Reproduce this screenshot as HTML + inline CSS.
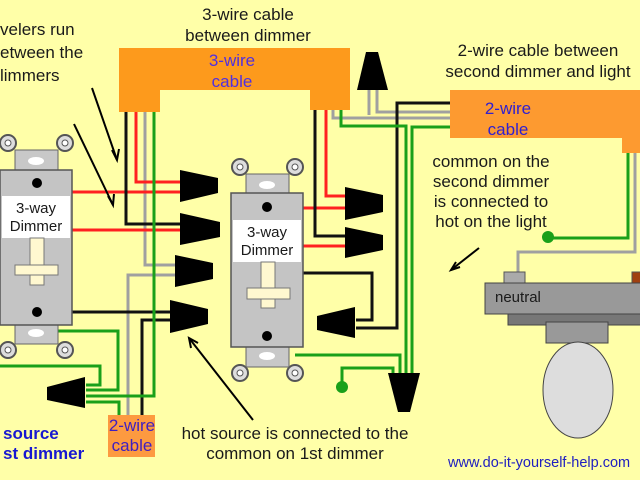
<!DOCTYPE html>
<html><head><meta charset="utf-8"><style>
html,body{margin:0;padding:0;background:#ffffa8;}
svg{display:block;}
text{font-family:"Liberation Sans",sans-serif;font-size:17px;fill:#1a1a1a;}
</style></head><body>
<svg width="640" height="480" viewBox="0 0 640 480" xmlns="http://www.w3.org/2000/svg">
<rect width="640" height="480" fill="#ffffa8"/>

<path d="M119 48 H350 V110 H310 V90 H160 V112 H119 Z" fill="#fd9a1c"/>
<path d="M450 90 H640 V153 H622 V138 H450 Z" fill="#fd9a30"/>
<rect x="108" y="415" width="47" height="42" fill="#fd9a40"/>

<g fill="none" stroke-width="3" stroke-linejoin="miter">
<path d="M145 112 V265 H176" stroke="#a0a0a0"/>
<path d="M128 415 V275 H176" stroke="#a0a0a0"/>
<path d="M333 110 V118 H450" stroke="#a0a0a0"/>
<path d="M369 90 V115 M377 90 V112 H450" stroke="#a0a0a0"/>
<path d="M635 153 V252 H518 V272" stroke="#a0a0a0"/>
<path d="M136 112 V182 H181" stroke="#ff2020"/>
<path d="M72 192 H181" stroke="#ff2020"/>
<path d="M72 230 H182" stroke="#ff2020"/>
<path d="M326 110 V196 H346" stroke="#ff2020"/>
<path d="M303 208 H346" stroke="#ff2020"/>
<path d="M303 246 H346" stroke="#ff2020"/>
<path d="M126 112 V224 H182" stroke="#111"/>
<path d="M72 312 H172" stroke="#111"/>
<path d="M142 415 V320 H172" stroke="#111"/>
<path d="M315 110 V236 H346" stroke="#111"/>
<path d="M303 273 H372 V320 H356" stroke="#111"/>
<path d="M450 103 H397 V328 H356" stroke="#111"/>
<path d="M154 112 V396 H86" stroke="#1aa01a"/>
<path d="M58 331 H118 V390 H86" stroke="#1aa01a"/>
<path d="M0 366 H100 V385 H86" stroke="#1aa01a"/>
<path d="M86 402 H119 V415" stroke="#1aa01a"/>
<path d="M295 355 H400 V375" stroke="#1aa01a"/>
<path d="M341 110 V126 H406 V375" stroke="#1aa01a"/>
<path d="M450 127 H412 V375" stroke="#1aa01a"/>
<path d="M342 388 V368 H393 V375" stroke="#1aa01a"/>
<path d="M628 153 V238 H548" stroke="#1aa01a"/>
</g>
<circle cx="342" cy="387" r="6" fill="#1aa01a"/>
<circle cx="548" cy="237" r="6" fill="#1aa01a"/>

<g fill="#000">
<polygon points="180,170 218,178 218,193 180,202"/>
<polygon points="180,213 220,222 220,237 180,245"/>
<polygon points="175,255 213,263 213,279 175,287"/>
<polygon points="170,300 208,309 208,324 170,333"/>
<polygon points="47,387 85,377 85,408 47,400"/>
<polygon points="345,187 383,195 383,212 345,220"/>
<polygon points="345,227 383,235 383,250 345,258"/>
<polygon points="317,316 355,307 355,338 317,330"/>
<polygon points="366,52 378,52 388,90 357,90"/>
<polygon points="388,373 420,373 410,412 398,412"/>
</g>

<g>
<circle cx="8" cy="143" r="8" fill="#ddd" stroke="#555" stroke-width="2"/><circle cx="8" cy="143" r="3" fill="#fff" stroke="#555"/>
<circle cx="65" cy="143" r="8" fill="#ddd" stroke="#555" stroke-width="2"/><circle cx="65" cy="143" r="3" fill="#fff" stroke="#555"/>
<circle cx="8" cy="350" r="8" fill="#ddd" stroke="#555" stroke-width="2"/><circle cx="8" cy="350" r="3" fill="#fff" stroke="#555"/>
<circle cx="65" cy="350" r="8" fill="#ddd" stroke="#555" stroke-width="2"/><circle cx="65" cy="350" r="3" fill="#fff" stroke="#555"/>
<rect x="15" y="150" width="43" height="22" fill="#c8c8c8" stroke="#666"/>
<ellipse cx="36" cy="161" rx="8" ry="4" fill="#fff"/>
<rect x="15" y="322" width="43" height="22" fill="#c8c8c8" stroke="#666"/>
<ellipse cx="36" cy="333" rx="8" ry="4" fill="#fff"/>
<rect x="0" y="170" width="72" height="155" fill="#c4c4c4" stroke="#555" stroke-width="1.5"/>
<rect x="2" y="196" width="68" height="42" fill="#fff"/>
<text x="36" y="213" text-anchor="middle" style="font-size:15px">3-way</text>
<text x="36" y="231" text-anchor="middle" style="font-size:15px">Dimmer</text>
<rect x="30" y="238" width="14" height="47" fill="#fff8d0" stroke="#777"/>
<rect x="15" y="265" width="43" height="10" fill="#fff8d0" stroke="#777"/>
<circle cx="37" cy="183" r="5" fill="#000"/>
<circle cx="37" cy="312" r="5" fill="#000"/>
</g>

<g>
<circle cx="240" cy="167" r="8" fill="#ddd" stroke="#555" stroke-width="2"/><circle cx="240" cy="167" r="3" fill="#fff" stroke="#555"/>
<circle cx="295" cy="167" r="8" fill="#ddd" stroke="#555" stroke-width="2"/><circle cx="295" cy="167" r="3" fill="#fff" stroke="#555"/>
<circle cx="240" cy="373" r="8" fill="#ddd" stroke="#555" stroke-width="2"/><circle cx="240" cy="373" r="3" fill="#fff" stroke="#555"/>
<circle cx="295" cy="373" r="8" fill="#ddd" stroke="#555" stroke-width="2"/><circle cx="295" cy="373" r="3" fill="#fff" stroke="#555"/>
<rect x="246" y="174" width="43" height="22" fill="#c8c8c8" stroke="#666"/>
<ellipse cx="267" cy="185" rx="8" ry="4" fill="#fff"/>
<rect x="246" y="345" width="43" height="22" fill="#c8c8c8" stroke="#666"/>
<ellipse cx="267" cy="356" rx="8" ry="4" fill="#fff"/>
<rect x="231" y="193" width="72" height="154" fill="#c4c4c4" stroke="#555" stroke-width="1.5"/>
<rect x="233" y="220" width="68" height="42" fill="#fff"/>
<text x="267" y="237" text-anchor="middle" style="font-size:15px">3-way</text>
<text x="267" y="255" text-anchor="middle" style="font-size:15px">Dimmer</text>
<rect x="261" y="262" width="14" height="46" fill="#fff8d0" stroke="#777"/>
<rect x="247" y="288" width="43" height="11" fill="#fff8d0" stroke="#777"/>
<circle cx="267" cy="207" r="5" fill="#000"/>
<circle cx="267" cy="336" r="5" fill="#000"/>
</g>

<rect x="504" y="272" width="21" height="12" fill="#aaa" stroke="#555"/>
<rect x="632" y="272" width="10" height="12" fill="#a04010" stroke="#555"/>
<rect x="508" y="311" width="134" height="14" fill="#777" stroke="#444"/>
<rect x="485" y="283" width="157" height="31" fill="#999" stroke="#444"/>
<text x="495" y="302" style="font-size:15px">neutral</text>
<rect x="546" y="322" width="62" height="21" fill="#999" stroke="#444"/>
<ellipse cx="578" cy="390" rx="35" ry="48" fill="#ddd" stroke="#444"/>

<g stroke="#000" stroke-width="2" fill="none">
<path d="M92 88 L117 160"/><path d="M112 150 L117 160 L119 149"/>
<path d="M74 124 L113 205"/><path d="M108 196 L113 205 L114 194"/>
<path d="M253 420 L189 338"/><path d="M191 348 L189 338 L198 343"/>
<path d="M479 248 L451 270"/><path d="M456 262 L451 270 L460 267"/>
</g>

<text x="248" y="20" text-anchor="middle">3-wire cable</text>
<text x="248" y="41" text-anchor="middle">between dimmer</text>
<text x="232" y="66" text-anchor="middle" style="fill:#5030e0">3-wire</text>
<text x="232" y="87" text-anchor="middle" style="fill:#5030e0">cable</text>
<text x="0" y="35">velers run</text>
<text x="0" y="58">etween the</text>
<text x="0" y="81">limmers</text>
<text x="538" y="56" text-anchor="middle">2-wire cable between</text>
<text x="538" y="77" text-anchor="middle">second dimmer and light</text>
<text x="508" y="114" text-anchor="middle" style="fill:#3020d0">2-wire</text>
<text x="508" y="135" text-anchor="middle" style="fill:#3020d0">cable</text>
<text x="491" y="167" text-anchor="middle">common on the</text>
<text x="491" y="187" text-anchor="middle">second dimmer</text>
<text x="491" y="207" text-anchor="middle">is connected to</text>
<text x="491" y="227" text-anchor="middle">hot on the light</text>
<text x="132" y="431" text-anchor="middle" style="fill:#4020c0">2-wire</text>
<text x="132" y="451" text-anchor="middle" style="fill:#4020c0">cable</text>
<text x="295" y="439" text-anchor="middle">hot source is connected to the</text>
<text x="295" y="459" text-anchor="middle">common on 1st dimmer</text>
<text x="3" y="439" font-weight="bold" style="fill:#1818d0">source</text>
<text x="3" y="459" font-weight="bold" style="fill:#1818d0">st dimmer</text>
<text x="448" y="467" style="fill:#2020c0;font-size:14.5px">www.do-it-yourself-help.com</text>
</svg>
</body></html>
